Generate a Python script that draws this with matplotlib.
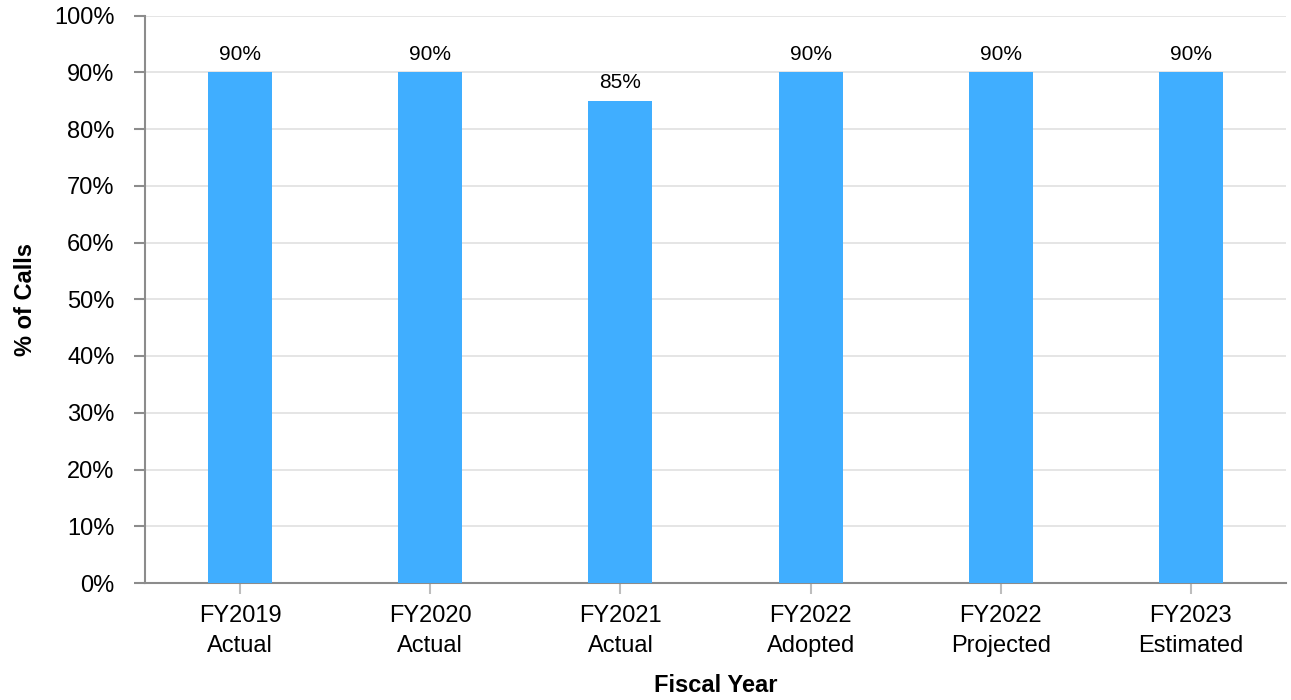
import matplotlib
matplotlib.use("Agg")
import matplotlib.pyplot as plt
from matplotlib.ticker import FuncFormatter, MultipleLocator

categories = ["FY2019\nActual", "FY2020\nActual", "FY2021\nActual",
              "FY2022\nAdopted", "FY2022\nProjected", "FY2023\nEstimated"]
values = [90, 90, 85, 90, 90, 90]
data_labels = ["90%", "90%", "85%", "90%", "90%", "90%"]

plt.rcParams['font.family'] = ['Liberation Sans', 'DejaVu Sans']

fig = plt.figure(figsize=(12.91, 7.0), dpi=100)
ax = fig.add_axes([145/1291, 1-583/700, (1286-145)/1291, (583-15.5)/700])

x = list(range(len(categories)))
bars = ax.bar(x, values, width=0.336, color="#40AEFF", zorder=3)
ax.set_xlim(-0.5, len(categories) - 0.5)
ax.set_ylim(0, 100)
ax.yaxis.set_major_locator(MultipleLocator(10))
ax.yaxis.set_major_formatter(FuncFormatter(lambda v, p: f"{int(v)}%"))
ax.grid(axis='y', color="#e3e3e3", linewidth=1.3, zorder=0)
ax.set_axisbelow(True)

ax.set_xticks(x)
ax.set_xticklabels(categories, fontsize=17, linespacing=1.45)
for t in ax.get_yticklabels():
    t.set_fontsize(17)

for s in ["top", "right"]:
    ax.spines[s].set_visible(False)
for s in ["left", "bottom"]:
    ax.spines[s].set_color("#8c8c8c")
    ax.spines[s].set_linewidth(1.5)

ax.tick_params(axis='y', length=8, width=1.5, color="#8c8c8c", pad=14, labelcolor="#000000")
ax.tick_params(axis='x', length=8, width=1.5, color="#bdbdbd", pad=8, labelcolor="#000000")

for xi, v, lab in zip(x, values, data_labels):
    ax.annotate(lab, (xi, v), xytext=(0, 6), textcoords="offset points",
                ha="center", va="bottom", fontsize=15, color="#000000")

ax.set_ylabel("% of Calls", fontsize=17, fontweight="bold", labelpad=12)
ax.set_xlabel("Fiscal Year", fontsize=17, fontweight="bold", labelpad=12)

fig.savefig("out.png", dpi=100)
